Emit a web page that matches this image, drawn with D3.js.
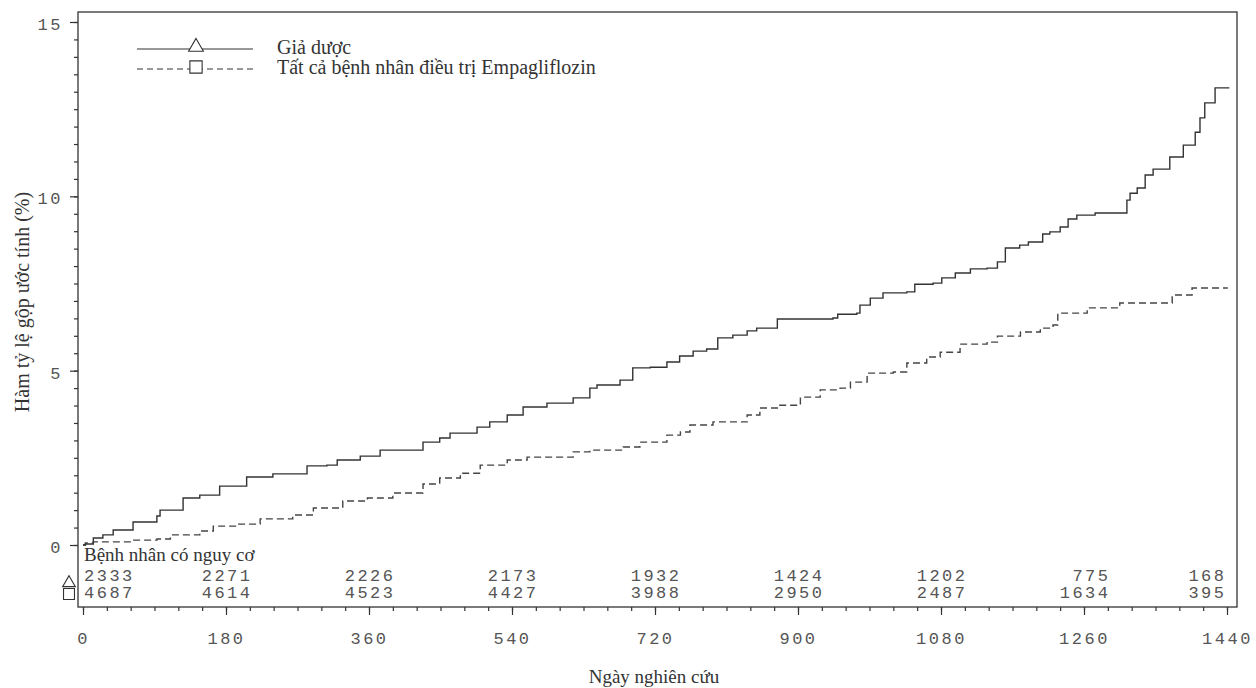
<!DOCTYPE html>
<html>
<head>
<meta charset="utf-8">
<script src="https://cdn.jsdelivr.net/npm/d3@7"></script>
<style>
  html, body { margin: 0; padding: 0; background: #fff; }
  svg { display: block; }
</style>
</head>
<body>
<svg id="chart" width="1256" height="688"></svg>
<script>
// ---------- DATA ----------
const seriesNames = ["Giả dược", "Tất cả bệnh nhân điều trị Empagliflozin"];

const placeboDays = [0, 3, 13, 25, 38, 63, 93, 97, 126, 147, 172, 206, 239, 282, 307, 320, 349, 374, 428, 449, 462, 496, 512, 534, 554, 584, 617, 638, 647, 676, 692, 714, 735, 751, 768, 785, 799, 818, 836, 848, 874, 944, 950, 974, 978, 991, 1007, 1037, 1047, 1070, 1081, 1098, 1117, 1138, 1151, 1161, 1179, 1190, 1208, 1217, 1230, 1240, 1251, 1274, 1314, 1318, 1327, 1337, 1347, 1368, 1385, 1400, 1406, 1412, 1425, 1443];
const placeboValues = [0, 0.03, 0.2, 0.29, 0.43, 0.66, 0.83, 1.0, 1.35, 1.43, 1.69, 1.95, 2.04, 2.27, 2.29, 2.44, 2.55, 2.72, 2.95, 3.07, 3.21, 3.38, 3.53, 3.73, 3.96, 4.07, 4.22, 4.5, 4.59, 4.73, 5.08, 5.1, 5.25, 5.42, 5.56, 5.62, 5.94, 6.02, 6.14, 6.22, 6.48, 6.51, 6.62, 6.65, 6.88, 7.08, 7.23, 7.26, 7.48, 7.51, 7.66, 7.8, 7.92, 7.94, 8.12, 8.52, 8.6, 8.69, 8.92, 8.98, 9.12, 9.35, 9.46, 9.52, 9.89, 10.09, 10.24, 10.61, 10.78, 11.13, 11.47, 11.84, 12.25, 12.68, 13.11, 13.11];

const empaDays = [0, 3, 13, 63, 93, 110, 147, 164, 194, 223, 264, 290, 327, 358, 390, 428, 449, 475, 500, 534, 559, 617, 638, 680, 701, 735, 752, 764, 793, 836, 852, 877, 903, 928, 953, 966, 987, 1020, 1037, 1062, 1079, 1104, 1138, 1151, 1180, 1205, 1221, 1227, 1264, 1305, 1371, 1396, 1441];
const empaValues = [0, 0.06, 0.09, 0.14, 0.17, 0.29, 0.4, 0.54, 0.6, 0.75, 0.86, 1.06, 1.26, 1.35, 1.49, 1.75, 1.92, 2.06, 2.29, 2.44, 2.52, 2.67, 2.72, 2.81, 2.95, 3.15, 3.24, 3.44, 3.53, 3.73, 3.93, 4.01, 4.24, 4.45, 4.5, 4.67, 4.93, 4.96, 5.22, 5.39, 5.53, 5.76, 5.82, 5.99, 6.11, 6.22, 6.31, 6.65, 6.8, 6.94, 7.17, 7.37, 7.37];

const xTickValues = [0, 180, 360, 540, 720, 900, 1080, 1260, 1440];
const yTickValues = [0, 5, 10, 15];

const atRiskLabel = "Bệnh nhân có nguy cơ";
const placeboAtRisk = [2333, 2271, 2226, 2173, 1932, 1424, 1202, 775, 168];
const empaAtRisk = [4687, 4614, 4523, 4427, 3988, 2950, 2487, 1634, 395];

const xTitle = "Ngày nghiên cứu";
const yTitle = "Hàm tỷ lệ gộp ước tính (%)";

// ---------- LAYOUT ----------
const svg = d3.select("#chart");
const frame = { left: 78, right: 1237, top: 12, bottom: 607 };
const ink = "#333";
const textInk = "#333";
const serif = "'Liberation Serif', 'Times New Roman', serif";
const mono = "'Liberation Mono', 'DejaVu Sans Mono', monospace";

const x = d3.scaleLinear().domain([0, 1440]).range([83, 1227]);
const y = d3.scaleLinear().domain([0, 15]).range([545, 22]);

// frame
svg.append("rect")
  .attr("x", frame.left).attr("y", frame.top)
  .attr("width", frame.right - frame.left).attr("height", frame.bottom - frame.top)
  .attr("fill", "none").attr("stroke", ink).attr("stroke-width", 1.3);

// y axis (minor + major)
const yMinor = svg.append("g").attr("transform", `translate(${frame.left},0)`)
  .call(d3.axisLeft(y).tickValues(d3.range(0, 15.01, 0.5)).tickSize(4).tickFormat(""));
const yMajor = svg.append("g").attr("transform", `translate(${frame.left},0)`)
  .call(d3.axisLeft(y).tickValues(yTickValues).tickSize(8).tickPadding(7).tickFormat(d3.format("d")));

// x axis (minor + major)
const xMinor = svg.append("g").attr("transform", `translate(0,${frame.bottom})`)
  .call(d3.axisBottom(x).tickValues(d3.range(0, 1440.1, 30)).tickSize(4).tickFormat(""));
const xMajor = svg.append("g").attr("transform", `translate(0,${frame.bottom})`)
  .call(d3.axisBottom(x).tickValues(xTickValues).tickSize(8).tickPadding(17).tickFormat(d3.format("d")));

[yMinor, yMajor, xMinor, xMajor].forEach(g => {
  g.select(".domain").remove();
  g.selectAll(".tick line").attr("stroke", ink).attr("stroke-width", 1.2);
  g.selectAll(".tick text")
    .attr("fill", "#555")
    .style("font-family", mono)
    .style("font-size", "17px")
    .style("letter-spacing", "2.5px");
});
yMajor.selectAll(".tick text").attr("dy", "0.45em");

// curves
const line = d3.line().curve(d3.curveStepAfter).x(d => x(d[0])).y(d => y(d[1]));
const placeboData = placeboDays.map((d, i) => [d, placeboValues[i]]);
const empaData = empaDays.map((d, i) => [d, empaValues[i]]);

svg.append("path").datum(empaData)
  .attr("d", line).attr("fill", "none").attr("stroke", "#444")
  .attr("stroke-width", 1.4).attr("stroke-dasharray", "7,4");
svg.append("path").datum(placeboData)
  .attr("d", line).attr("fill", "none").attr("stroke", ink)
  .attr("stroke-width", 1.4);

// legend
const legend = svg.append("g");
const legendRows = [
  { name: seriesNames[0], y: 49, dash: null, symbol: d3.symbolTriangle },
  { name: seriesNames[1], y: 69, dash: "6,4", symbol: d3.symbolSquare }
];
legendRows.forEach(r => {
  legend.append("line").attr("x1", 137).attr("x2", 253).attr("y1", r.y).attr("y2", r.y)
    .attr("stroke", ink).attr("stroke-width", 1.2).attr("stroke-dasharray", r.dash);
  legend.append("path")
    .attr("d", d3.symbol().type(r.symbol).size(r.symbol === d3.symbolTriangle ? 95 : 150)())
    .attr("transform", `translate(196,${r.y - 2})`)
    .attr("fill", "#fff").attr("stroke", ink).attr("stroke-width", 1.1);
  legend.append("text").attr("x", 277).attr("y", r.y + 5)
    .attr("fill", textInk).style("font-family", serif).style("font-size", "20px")
    .text(r.name);
});

// at-risk table
svg.append("text").attr("x", 84).attr("y", 561)
  .attr("fill", textInk).style("font-family", serif).style("font-size", "19px")
  .text(atRiskLabel);

function riskRow(values, baseline) {
  values.forEach((v, i) => {
    const t = svg.append("text")
      .attr("y", baseline)
      .attr("fill", "#555")
      .style("font-family", mono).style("font-size", "17px").style("letter-spacing", "2.5px")
      .text(v);
    const w = t.node().getComputedTextLength() - 2.5;
    let right = x(xTickValues[i]) + 24;
    let left = right - w;
    if (left < 84) { left = 84; }
    if (left + w > 1224) { left = 1224 - w; }
    t.attr("x", left);
  });
}
riskRow(placeboAtRisk, 581);
riskRow(empaAtRisk, 598);

svg.append("path").attr("d", d3.symbol().type(d3.symbolTriangle).size(70)())
  .attr("transform", "translate(69,583)")
  .attr("fill", "none").attr("stroke", ink).attr("stroke-width", 1.1);
svg.append("path").attr("d", d3.symbol().type(d3.symbolSquare).size(120)())
  .attr("transform", "translate(69,594)")
  .attr("fill", "none").attr("stroke", ink).attr("stroke-width", 1.1);

// titles
svg.append("text").attr("x", 654).attr("y", 683).attr("text-anchor", "middle")
  .attr("fill", textInk).style("font-family", serif).style("font-size", "19px")
  .text(xTitle);
svg.append("text").attr("transform", "translate(29,302) rotate(-90)").attr("text-anchor", "middle")
  .attr("fill", textInk).style("font-family", serif).style("font-size", "20px")
  .text(yTitle);
</script>
</body>
</html>
